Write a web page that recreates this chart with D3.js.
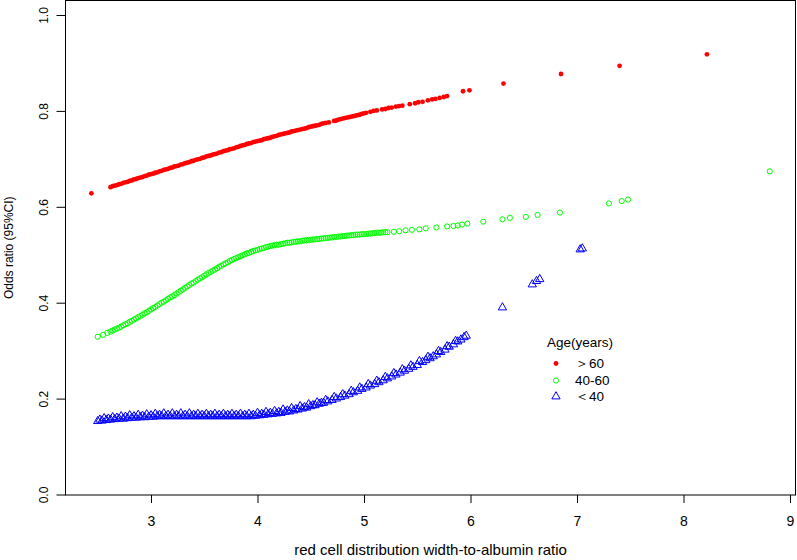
<!DOCTYPE html>
<html>
<head>
<meta charset="utf-8">
<script src="https://cdn.jsdelivr.net/npm/d3@7"></script>
<style>
  body { margin: 0; background: #fff; }
  svg { display: block; font-family: "Liberation Sans", Arial, sans-serif; }
</style>
</head>
<body>
<svg id="chart" width="797" height="560"></svg>
<script>
/* Data */

// Age > 60: [ratio, odds ratio]
var olderPts = [
    [2.44, 0.628],
    [2.62, 0.641], [2.64, 0.643], [2.66, 0.644], [2.68, 0.645], [2.70, 0.647], [2.72, 0.648],
    [2.74, 0.650], [2.76, 0.651], [2.78, 0.652], [2.80, 0.654], [2.82, 0.655], [2.84, 0.657],
    [2.86, 0.658], [2.88, 0.660], [2.90, 0.661], [2.92, 0.662], [2.94, 0.664], [2.96, 0.665],
    [2.98, 0.667], [3.00, 0.668], [3.02, 0.669], [3.04, 0.671], [3.06, 0.672], [3.08, 0.674],
    [3.10, 0.675], [3.12, 0.677], [3.14, 0.678], [3.16, 0.679], [3.18, 0.681], [3.20, 0.682],
    [3.22, 0.684], [3.24, 0.685], [3.26, 0.686], [3.28, 0.688], [3.30, 0.689], [3.32, 0.691],
    [3.34, 0.692], [3.36, 0.693], [3.38, 0.695], [3.40, 0.696], [3.42, 0.698], [3.44, 0.699],
    [3.46, 0.700], [3.48, 0.702], [3.50, 0.703], [3.52, 0.705], [3.54, 0.706], [3.56, 0.707],
    [3.58, 0.709], [3.60, 0.710], [3.62, 0.711], [3.64, 0.713], [3.66, 0.714], [3.68, 0.716],
    [3.70, 0.717], [3.72, 0.718], [3.74, 0.720], [3.76, 0.721], [3.78, 0.722], [3.80, 0.724],
    [3.82, 0.725], [3.84, 0.727], [3.86, 0.728], [3.88, 0.729], [3.90, 0.731], [3.92, 0.732],
    [3.94, 0.733], [3.96, 0.735], [3.98, 0.736], [4.00, 0.737], [4.02, 0.738], [4.04, 0.739],
    [4.06, 0.741], [4.08, 0.742], [4.10, 0.743], [4.12, 0.744], [4.14, 0.746], [4.16, 0.747],
    [4.18, 0.748], [4.20, 0.750], [4.22, 0.751], [4.24, 0.752], [4.26, 0.753], [4.28, 0.754],
    [4.30, 0.755], [4.32, 0.757], [4.34, 0.758], [4.36, 0.759], [4.38, 0.760], [4.40, 0.761],
    [4.42, 0.762], [4.44, 0.763], [4.46, 0.764], [4.48, 0.766], [4.50, 0.767], [4.52, 0.768],
    [4.54, 0.769], [4.56, 0.770], [4.58, 0.771], [4.60, 0.773], [4.62, 0.774], [4.64, 0.775],
    [4.67, 0.776], [4.72, 0.779], [4.74, 0.780], [4.76, 0.782], [4.78, 0.783], [4.80, 0.784],
    [4.82, 0.785], [4.84, 0.786], [4.86, 0.787], [4.88, 0.788], [4.90, 0.789], [4.92, 0.790],
    [4.94, 0.791], [4.96, 0.792], [4.98, 0.794], [5.00, 0.795], [5.02, 0.796],
    [5.06, 0.798], [5.09, 0.800], [5.12, 0.801], [5.17, 0.803], [5.20, 0.804],
    [5.23, 0.806], [5.26, 0.807], [5.30, 0.809], [5.33, 0.810], [5.36, 0.811], [5.43, 0.814],
    [5.48, 0.816], [5.51, 0.818], [5.55, 0.819], [5.60, 0.822], [5.64, 0.824], [5.67, 0.825],
    [5.71, 0.827], [5.75, 0.829], [5.78, 0.831], [5.93, 0.841], [5.99, 0.843], [6.31, 0.857],
    [6.85, 0.877], [7.40, 0.894], [8.22, 0.918]
];

// Age 40-60
var middlePts = [
    [2.50, 0.329], [2.55, 0.333], [2.59, 0.337], [2.62, 0.340], [2.64, 0.342], [2.66, 0.344],
    [2.68, 0.346], [2.70, 0.348], [2.72, 0.350], [2.74, 0.353], [2.76, 0.355], [2.78, 0.357],
    [2.80, 0.360], [2.82, 0.362], [2.84, 0.365], [2.86, 0.367], [2.88, 0.370], [2.90, 0.372],
    [2.92, 0.375], [2.94, 0.378], [2.96, 0.380], [2.98, 0.383], [3.00, 0.386], [3.02, 0.389],
    [3.04, 0.391], [3.06, 0.394], [3.08, 0.397], [3.10, 0.400], [3.12, 0.402], [3.14, 0.405],
    [3.16, 0.408], [3.18, 0.411], [3.20, 0.413], [3.22, 0.416], [3.24, 0.419], [3.26, 0.422],
    [3.28, 0.425], [3.30, 0.428], [3.32, 0.431], [3.34, 0.434], [3.36, 0.437], [3.38, 0.440],
    [3.40, 0.442], [3.42, 0.445], [3.44, 0.448], [3.46, 0.451], [3.48, 0.453], [3.50, 0.456],
    [3.52, 0.459], [3.54, 0.462], [3.56, 0.464], [3.58, 0.467], [3.60, 0.469], [3.62, 0.472],
    [3.64, 0.475], [3.66, 0.477], [3.68, 0.480], [3.70, 0.482], [3.72, 0.484], [3.74, 0.487],
    [3.76, 0.489], [3.78, 0.491], [3.80, 0.493], [3.82, 0.495], [3.84, 0.497], [3.86, 0.499],
    [3.88, 0.501], [3.90, 0.503], [3.92, 0.504], [3.94, 0.506], [3.96, 0.508], [3.98, 0.509],
    [4.00, 0.510], [4.02, 0.512], [4.04, 0.513], [4.06, 0.514], [4.08, 0.516], [4.10, 0.517],
    [4.12, 0.518], [4.14, 0.519], [4.16, 0.520], [4.18, 0.521], [4.20, 0.521], [4.22, 0.522],
    [4.24, 0.523], [4.26, 0.524], [4.28, 0.525], [4.30, 0.525], [4.32, 0.526], [4.34, 0.527],
    [4.36, 0.527], [4.38, 0.528], [4.40, 0.528], [4.42, 0.529], [4.44, 0.530], [4.46, 0.530],
    [4.48, 0.531], [4.50, 0.531], [4.52, 0.532], [4.54, 0.532], [4.56, 0.533], [4.58, 0.533],
    [4.60, 0.534], [4.62, 0.534], [4.64, 0.535], [4.66, 0.535], [4.68, 0.536], [4.70, 0.536],
    [4.72, 0.537], [4.74, 0.537], [4.76, 0.538], [4.78, 0.538], [4.80, 0.539], [4.82, 0.539],
    [4.84, 0.540], [4.86, 0.540], [4.88, 0.541], [4.90, 0.541], [4.92, 0.542], [4.94, 0.542],
    [4.96, 0.542], [4.98, 0.543], [5.00, 0.543], [5.02, 0.543], [5.04, 0.544], [5.06, 0.544],
    [5.08, 0.545], [5.10, 0.545], [5.12, 0.546], [5.14, 0.546], [5.16, 0.546], [5.18, 0.547],
    [5.20, 0.547], [5.22, 0.547], [5.28, 0.548], [5.33, 0.549], [5.39, 0.551],
    [5.45, 0.552], [5.52, 0.553], [5.58, 0.555], [5.68, 0.557], [5.78, 0.559], [5.84, 0.560],
    [5.88, 0.561], [5.92, 0.563], [5.97, 0.565], [6.12, 0.569], [6.30, 0.574], [6.37, 0.577],
    [6.52, 0.579], [6.63, 0.583], [6.84, 0.588], [7.30, 0.607], [7.42, 0.612], [7.48, 0.615],
    [8.81, 0.674]
];

// Age < 40 (band has a little vertical spread: centre, upper and middle readings)
var youngerPts = [
    [2.50, 0.153], [2.54, 0.154], [2.58, 0.155], [2.62, 0.156], [2.66, 0.157], [2.70, 0.158],
    [2.74, 0.158], [2.78, 0.159], [2.82, 0.160], [2.86, 0.160], [2.90, 0.161], [2.94, 0.161],
    [2.98, 0.162], [3.02, 0.162], [3.06, 0.163], [3.10, 0.163], [3.14, 0.163], [3.18, 0.163],
    [3.22, 0.163], [3.26, 0.163], [3.30, 0.163], [3.34, 0.163], [3.38, 0.163], [3.42, 0.163],
    [3.46, 0.163], [3.50, 0.163], [3.54, 0.163], [3.58, 0.163], [3.62, 0.163], [3.66, 0.163],
    [3.70, 0.163], [3.74, 0.163], [3.78, 0.163], [3.82, 0.163], [3.86, 0.163], [3.90, 0.163],
    [3.94, 0.163], [3.98, 0.164], [4.02, 0.165], [4.06, 0.166], [4.10, 0.167], [4.14, 0.168],
    [4.18, 0.169], [4.22, 0.170], [4.26, 0.172], [4.30, 0.173], [4.34, 0.175], [4.38, 0.177],
    [4.42, 0.179], [4.46, 0.181], [4.50, 0.184], [4.54, 0.186], [4.58, 0.189], [4.62, 0.191],
    [4.66, 0.194], [4.70, 0.197], [4.74, 0.200], [4.78, 0.203], [4.82, 0.206], [4.86, 0.209],
    [4.90, 0.213], [4.94, 0.216], [4.98, 0.220], [5.02, 0.223], [5.06, 0.227], [5.10, 0.230],
    [5.14, 0.234], [5.18, 0.238], [5.22, 0.242], [5.26, 0.246], [5.30, 0.250], [5.34, 0.254],
    [5.38, 0.258], [5.42, 0.262], [5.46, 0.266], [5.50, 0.270], [5.55, 0.276], [5.58, 0.280],
    [5.62, 0.284], [5.65, 0.288], [5.68, 0.292], [5.72, 0.297], [5.76, 0.302], [5.80, 0.308],
    [5.84, 0.313], [5.88, 0.319], [5.91, 0.323], [5.94, 0.328], [5.96, 0.331], [6.30, 0.390],
    [6.58, 0.438], [6.62, 0.445], [6.65, 0.449], [7.03, 0.511], [7.05, 0.513],
    [2.56, 0.159], [2.64, 0.161], [2.72, 0.163], [2.80, 0.165], [2.88, 0.166], [2.96, 0.167],
    [3.04, 0.168], [3.12, 0.169], [3.20, 0.169], [3.28, 0.169], [3.36, 0.169], [3.44, 0.168],
    [3.52, 0.168], [3.60, 0.168], [3.68, 0.168], [3.76, 0.168], [3.84, 0.168], [3.92, 0.168],
    [4.00, 0.170], [4.08, 0.172], [4.16, 0.174], [4.24, 0.177], [4.32, 0.180], [4.40, 0.184],
    [4.48, 0.188], [4.56, 0.192], [4.64, 0.197], [4.72, 0.203], [4.80, 0.209], [4.88, 0.216],
    [4.96, 0.223], [5.04, 0.230], [5.12, 0.237], [5.20, 0.245], [5.28, 0.253], [5.36, 0.261],
    [5.44, 0.269], [5.52, 0.278], [5.60, 0.287], [5.70, 0.299], [5.78, 0.309], [5.86, 0.320],
    [2.52, 0.156], [2.60, 0.158], [2.68, 0.160], [2.76, 0.162], [2.84, 0.163], [2.92, 0.164],
    [3.00, 0.165], [3.08, 0.166], [3.16, 0.166], [3.24, 0.166], [3.32, 0.166], [3.40, 0.166],
    [3.48, 0.166], [3.56, 0.166], [3.64, 0.166], [3.72, 0.166], [3.80, 0.166], [3.88, 0.166],
    [3.96, 0.166], [4.04, 0.168], [4.12, 0.170], [4.20, 0.172], [4.28, 0.175], [4.36, 0.178],
    [4.44, 0.182], [4.52, 0.186], [4.60, 0.191]
];

var xTicks = [3, 4, 5, 6, 7, 8, 9];
var yTicks = [0, 0.2, 0.4, 0.6, 0.8, 1.0];
var legendTitle = "Age(years)";
var legendLabels = ["\uFF1E60", "40-60", "\uFF1C40"];

/* Layout */

var box = { left: 65.5, right: 795.5, top: 0.5, bottom: 495 };

var x = d3.scaleLinear().domain([3, 9]).range([151, 790]);
var y = d3.scaleLinear().domain([0, 1]).range([494.5, 15]);

var narrow = "'Liberation Sans Narrow', 'Liberation Sans', Arial, sans-serif";

var svg = d3.select("#chart");

// frame
svg.append("rect")
    .attr("x", box.left).attr("y", box.top)
    .attr("width", box.right - box.left)
    .attr("height", box.bottom - box.top)
    .attr("fill", "none")
    .attr("stroke", "#000")
    .attr("stroke-width", 1);

// x axis
var gx = svg.append("g")
    .attr("transform", "translate(0," + box.bottom + ")")
    .call(d3.axisBottom(x).tickValues(xTicks).tickFormat(d3.format("d")).tickSize(8).tickPadding(13));
gx.select(".domain").remove();
gx.selectAll("text")
    .style("font-family", narrow)
    .style("font-size", "14px")
    .attr("fill", "#000");

// y axis
var gy = svg.append("g")
    .attr("transform", "translate(" + box.left + ",0)")
    .call(d3.axisLeft(y).tickValues(yTicks).tickFormat(d3.format(".1f")).tickSize(9));
gy.select(".domain").remove();
gy.selectAll("text")
    .attr("x", null)
    .attr("text-anchor", "middle")
    .attr("transform", "translate(-22,0) rotate(-90)")
    .attr("y", 0)
    .attr("dy", "0.35em")
    .style("font-size", "12px")
    .attr("fill", "#000");

// axis titles
svg.append("text")
    .attr("x", (box.left + box.right) / 2)
    .attr("y", 555)
    .attr("text-anchor", "middle")
    .style("font-family", narrow)
    .style("font-size", "15px")
    .text("red cell distribution width-to-albumin ratio");

svg.append("text")
    .attr("transform", "translate(13," + ((box.top + box.bottom) / 2) + ") rotate(-90)")
    .attr("text-anchor", "middle")
    .style("font-size", "12px")
    .text("Odds ratio (95%CI)");

/* Points */

svg.append("g").selectAll("circle")
    .data(olderPts).enter().append("circle")
    .attr("cx", function(d){ return x(d[0]); })
    .attr("cy", function(d){ return y(d[1]); })
    .attr("r", 2.4)
    .attr("fill", "#ff0000");

svg.append("g").selectAll("circle")
    .data(middlePts).enter().append("circle")
    .attr("cx", function(d){ return x(d[0]); })
    .attr("cy", function(d){ return y(d[1]); })
    .attr("r", 2.6)
    .attr("fill", "none")
    .attr("stroke", "#00ff00")
    .attr("stroke-width", 1);

var tri = d3.symbol().type(d3.symbolTriangle).size(30);
svg.append("g").selectAll("path")
    .data(youngerPts).enter().append("path")
    .attr("transform", function(d){ return "translate(" + x(d[0]) + "," + y(d[1]) + ")"; })
    .attr("d", tri)
    .attr("fill", "none")
    .attr("stroke", "#0000ff")
    .attr("stroke-width", 1);

/* Legend */

var legend = svg.append("g").attr("transform", "translate(547,0)");
legend.append("text")
    .attr("x", 0).attr("y", 347)
    .style("font-size", "13.5px")
    .text(legendTitle);

var rowY = [363.5, 380.5, 396.5];
legend.append("circle").attr("cx", 9).attr("cy", rowY[0]).attr("r", 2.4).attr("fill", "#ff0000");
legend.append("circle").attr("cx", 9).attr("cy", rowY[1]).attr("r", 2.6)
    .attr("fill", "none").attr("stroke", "#00ff00");
legend.append("path").attr("transform", "translate(9," + rowY[2] + ")").attr("d", tri)
    .attr("fill", "none").attr("stroke", "#0000ff");

legend.selectAll("text.lab")
    .data(legendLabels).enter().append("text")
    .attr("class", "lab")
    .attr("x", 28)
    .attr("y", function(d, i){ return rowY[i]; })
    .attr("dy", "0.35em")
    .style("font-size", "13.5px")
    .text(function(d){ return d; });
</script>
</body>
</html>
